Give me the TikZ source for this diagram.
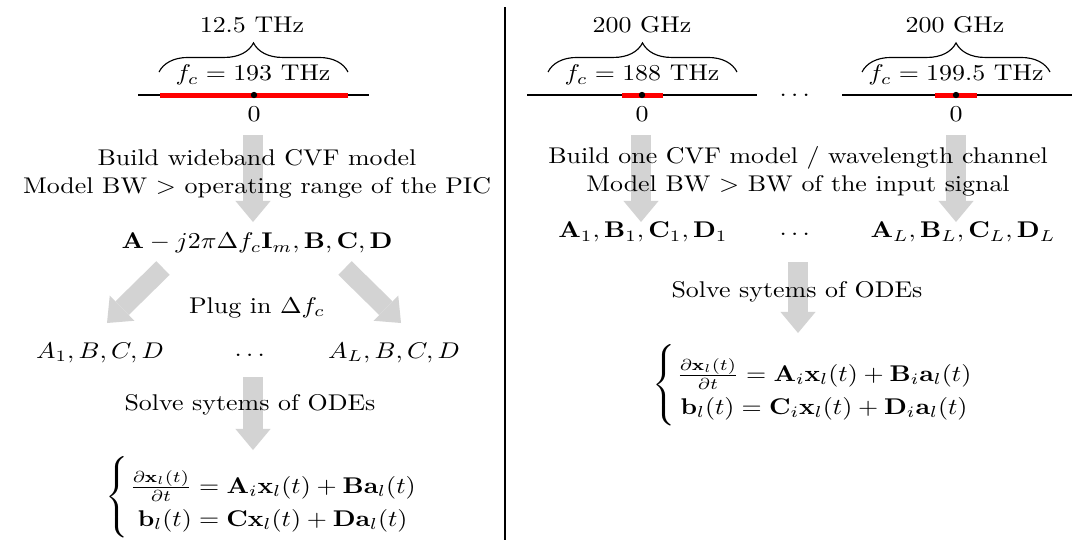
\documentclass[tikz,border=0pt]{standalone}
\usepackage{amsmath}
\usepackage{graphicx}
\usetikzlibrary{arrows.meta,decorations.pathreplacing}
\definecolor{arrowgray}{RGB}{211,211,211}
\newcommand\hs[1]{\scalebox{1.14}[1]{#1}}
\newcommand\sysbrace[1]{$\left\{\rule[-15pt]{0pt}{35pt}\right.\kern-2.4pt\raisebox{-2.7pt}{$\def\arraystretch{1.2}\begin{array}{@{}c@{}}#1\end{array}$}$}
\begin{document}
\begin{tikzpicture}[x=0.44pt,y=-0.44pt,
  txt/.style={inner sep=0pt},
  fat/.style={draw=arrowgray, line width=8.4pt,
    -{Triangle[width=15.5pt,length=9.3pt,line width=0pt,fill=arrowgray]}},
  axisline/.style={line width=0.7pt},
  band/.style={red, line width=2.2pt},
  brc/.style={decorate, decoration={brace, amplitude=12.8pt}, line width=0.5pt},
  dotc/.style={fill, circle, inner sep=0pt, minimum size=2.8pt}]
\useasboundingbox (0,0) rectangle (1077,543);

% ---------- arrows (behind text) ----------
\coordinate (a1s) at (253,135); \coordinate (a1e) at (253,222);
\coordinate (a2s) at (163,268); \coordinate (a2e) at (107,323);
\coordinate (a3s) at (345,268); \coordinate (a3e) at (401,323);
\coordinate (a4s) at (253,377); \coordinate (a4e) at (253,450);
\coordinate (b1s) at (641,135); \coordinate (b1e) at (641,222);
\coordinate (b2s) at (956,135); \coordinate (b2e) at (956,222);
\coordinate (b3s) at (798,262); \coordinate (b3e) at (798,333);
\foreach \s/\e in {a1s/a1e,a2s/a2e,a3s/a3e,a4s/a4e,b1s/b1e,b2s/b2e,b3s/b3e}
  \draw[fat] (\s) -- (\e);

% ---------- divider ----------
\draw[line width=0.9pt] (505,7) -- (505,540);

% ---------- left spectrum ----------
\draw[axisline] (138,95) -- (369,95);
\draw[band] (160,95) -- (348,95);
\node[dotc] (ldot) at (254,95) {};
\node[txt] (lzero) at (254,114) {\hs{$0$}};
\draw[brc] (159,72) -- (348,72);
\node[txt] (lbw) at (252,25) {\hs{12.5 THz}};
\node[txt] (lfc) at (253,75) {\hs{$f_c = 193$ THz}};

% ---------- left flow ----------
\node[txt] (lbuild) at (257,174) {\hs{\begin{tabular}{@{}c@{}}Build wideband CVF model\\Model BW $>$ operating range of the PIC\end{tabular}}};
\node[txt] (lA) at (257,243) {\hs{$\mathbf{A}-j2\pi\Delta f_c\mathbf{I}_m,\mathbf{B},\mathbf{C},\mathbf{D}$}};
\node[txt] (lplug) at (257,308) {\hs{Plug in $\Delta f_c$}};
\node[txt] (lA1) at (100,353) {\hs{$A_1,B,C,D$}};
\node[txt] (ldots) at (252,355) {\hs{$\dots$}};
\node[txt] (lAL) at (394,353) {\hs{$A_L,B,C,D$}};
\node[txt] (lsolve) at (250,405) {\hs{Solve sytems of ODEs}};
\node[txt,anchor=west] (leq) at (105,497) {\hs{\sysbrace{
 \frac{\partial\mathbf{x}_l(t)}{\partial t}=\mathbf{A}_i\mathbf{x}_l(t)+\mathbf{B}\mathbf{a}_l(t)\\
 \mathbf{b}_l(t)=\mathbf{C}\mathbf{x}_l(t)+\mathbf{D}\mathbf{a}_l(t)}}};

% ---------- right spectra ----------
\draw[axisline] (527,95) -- (757,95);
\draw[band] (622,95) -- (663,95);
\node[dotc] (rdot1) at (642,95) {};
\node[txt] (rzero1) at (642,114) {\hs{$0$}};
\draw[brc] (548,72) -- (737,72);
\node[txt] (rbw1) at (642,25) {\hs{200 GHz}};
\node[txt] (rfc1) at (642,75) {\hs{$f_c = 188$ THz}};

\node[txt] (rmid) at (797,95) {\hs{$\dots$}};

\draw[axisline] (842,95) -- (1072,95);
\draw[band] (935,95) -- (977,95);
\node[dotc] (rdot2) at (956,95) {};
\node[txt] (rzero2) at (956,114) {\hs{$0$}};
\draw[brc] (862,72) -- (1050,72);
\node[txt] (rbw2) at (955,25) {\hs{200 GHz}};
\node[txt] (rfc2) at (956,75) {\hs{$f_c = 199.5$ THz}};

% ---------- right flow ----------
\node[txt] (rbuild) at (798,172) {\hs{\begin{tabular}{@{}c@{}}Build one CVF model / wavelength channel\\Model BW $>$ BW of the input signal\end{tabular}}};
\node[txt] (rA1) at (643,232) {\hs{$\mathbf{A}_1,\mathbf{B}_1,\mathbf{C}_1,\mathbf{D}_1$}};
\node[txt] (rdots) at (797,234) {\hs{$\dots$}};
\node[txt] (rAL) at (963,232) {\hs{$\mathbf{A}_L,\mathbf{B}_L,\mathbf{C}_L,\mathbf{D}_L$}};
\node[txt] (rsolve) at (797,292) {\hs{Solve sytems of ODEs}};
\node[txt,anchor=west] (req) at (652,385) {\hs{\sysbrace{
 \frac{\partial\mathbf{x}_l(t)}{\partial t}=\mathbf{A}_i\mathbf{x}_l(t)+\mathbf{B}_i\mathbf{a}_l(t)\\
 \mathbf{b}_l(t)=\mathbf{C}_i\mathbf{x}_l(t)+\mathbf{D}_i\mathbf{a}_l(t)}}};
\end{tikzpicture}
\end{document}
